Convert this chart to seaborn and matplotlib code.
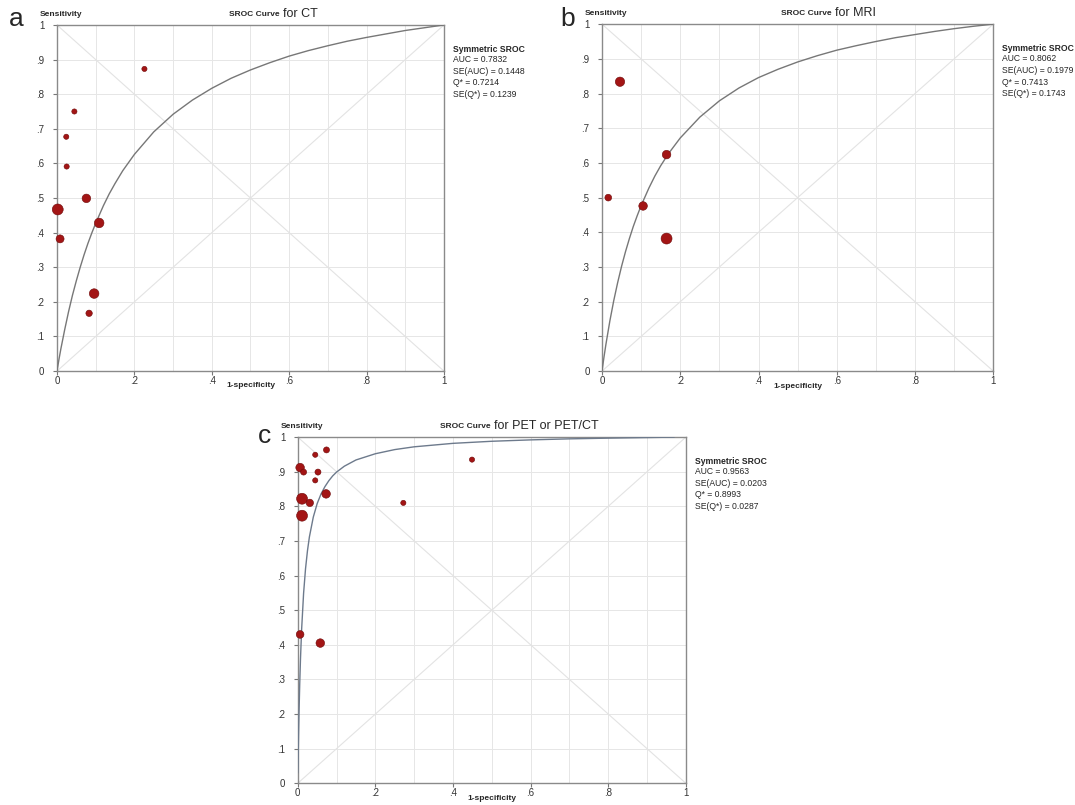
import numpy as np
import pandas as pd
import matplotlib
matplotlib.use('Agg')
import matplotlib.pyplot as plt
import seaborn as sns

sns.set_style('white')
plt.rcParams['font.family'] = ['Liberation Sans', 'DejaVu Sans']

# ---- study points (1-specificity, sensitivity, relative weight) ----
ct_fpr = [0.226, 0.045, 0.024, 0.025, 0.076, 0.002, 0.109, 0.008, 0.096, 0.083]
ct_sens = [0.873, 0.750, 0.677, 0.591, 0.499, 0.467, 0.428, 0.382, 0.224, 0.167]
ct_wt = [1.0, 1.0, 1.0, 1.0, 2.0, 3.0, 2.4, 1.8, 2.4, 1.3]

mri_fpr = [0.046, 0.165, 0.016, 0.105, 0.165]
mri_sens = [0.834, 0.624, 0.500, 0.476, 0.382]
mri_wt = [2.3, 2.0, 1.4, 2.0, 3.0]

pet_fpr = [0.074, 0.045, 0.449, 0.006, 0.015, 0.052, 0.045, 0.073, 0.011, 0.031, 0.272, 0.011, 0.006, 0.058]
pet_sens = [0.963, 0.949, 0.935, 0.912, 0.899, 0.899, 0.875, 0.836, 0.822, 0.810, 0.810, 0.773, 0.430, 0.405]
pet_wt = [1.2, 1.0, 1.0, 2.0, 1.2, 1.2, 1.0, 2.0, 3.0, 1.6, 1.0, 3.0, 1.7, 2.0]

# ---- SROC curves ----
ct_curve_x = [0, 0.002, 0.005, 0.01, 0.02, 0.03, 0.04, 0.05, 0.06, 0.07, 0.08, 0.09, 0.10, 0.12,
              0.135, 0.15, 0.17, 0.20, 0.25, 0.30, 0.35, 0.40, 0.45, 0.50, 0.55, 0.60, 0.65,
              0.70, 0.75, 0.80, 0.85, 0.90, 0.95, 1.0]
ct_curve_y = [0, 0.013, 0.033, 0.064, 0.120, 0.172, 0.219, 0.261, 0.300, 0.336, 0.369, 0.399, 0.427, 0.478,
              0.512, 0.542, 0.579, 0.626, 0.691, 0.742, 0.783, 0.817, 0.846, 0.870, 0.891, 0.910, 0.926,
              0.940, 0.953, 0.964, 0.974, 0.984, 0.992, 1.0]

mri_curve_x = [0, 0.002, 0.005, 0.01, 0.02, 0.03, 0.04, 0.05, 0.06, 0.07, 0.08, 0.09, 0.10, 0.12,
               0.135, 0.15, 0.17, 0.20, 0.25, 0.30, 0.35, 0.40, 0.45, 0.50, 0.55, 0.60, 0.65,
               0.70, 0.75, 0.80, 0.85, 0.90, 0.95, 1.0]
mri_curve_y = [0, 0.016, 0.040, 0.077, 0.144, 0.203, 0.255, 0.302, 0.344, 0.382, 0.417, 0.448, 0.477, 0.528,
               0.562, 0.592, 0.627, 0.672, 0.732, 0.779, 0.816, 0.846, 0.870, 0.891, 0.909, 0.925, 0.938,
               0.950, 0.961, 0.970, 0.979, 0.987, 0.994, 1.0]

pet_curve_x = [0, 0.001, 0.002, 0.003, 0.005, 0.007, 0.01, 0.015, 0.02, 0.025, 0.03, 0.04, 0.05,
               0.06, 0.07, 0.08, 0.09, 0.10, 0.12, 0.15, 0.20, 0.25, 0.30, 0.35, 0.40, 0.50,
               0.60, 0.70, 0.80, 0.97]
pet_curve_y = [0.03, 0.074, 0.138, 0.194, 0.286, 0.360, 0.446, 0.549, 0.620, 0.672, 0.712, 0.769, 0.808,
               0.836, 0.857, 0.874, 0.888, 0.899, 0.916, 0.934, 0.952, 0.964, 0.972, 0.977, 0.982, 0.988,
               0.992, 0.995, 0.997, 1.0]

ct_stats = ['AUC = 0.7832', 'SE(AUC) = 0.1448', 'Q* = 0.7214', 'SE(Q*) = 0.1239']
mri_stats = ['AUC = 0.8062', 'SE(AUC) = 0.1979', 'Q* = 0.7413', 'SE(Q*) = 0.1743']
pet_stats = ['AUC = 0.9563', 'SE(AUC) = 0.0203', 'Q* = 0.8993', 'SE(Q*) = 0.0287']

x_ticks = [0, 0.2, 0.4, 0.6, 0.8, 1.0]
x_labels = ['0', '.2', '.4', '.6', '.8', '1']
y_ticks = [round(v * 0.1, 1) for v in range(11)]
y_labels = ['0', '.1', '.2', '.3', '.4', '.5', '.6', '.7', '.8', '.9', '1']

dot_color = '#a31515'
grid_color = '#e6e6e6'


def draw_panel(ax, fpr, sens, wt, cx, cy, curve_color, title_tail, title_split, stats):
    pts = pd.DataFrame({'fpr': fpr, 'sens': sens, 'wt': wt})
    crv = pd.DataFrame({'x': cx, 'y': cy})

    ax.set_xlim(0, 1)
    ax.set_ylim(0, 1)
    ax.set_xticks(np.arange(0, 1.01, 0.1), minor=True)
    ax.grid(True, which='both', color=grid_color, lw=0.7)
    ax.set_axisbelow(True)
    # reference diagonals
    ax.plot([0, 1], [0, 1], color='#e3e3e3', lw=0.8, zorder=1)
    ax.plot([0, 1], [1, 0], color='#e3e3e3', lw=0.8, zorder=1)

    sns.lineplot(data=crv, x='x', y='y', ax=ax, color=curve_color, lw=1.0,
                 sort=False, estimator=None, zorder=3)
    sns.scatterplot(data=pts, x='fpr', y='sens', size='wt', sizes=(14, 62),
                    size_norm=(1, 3), color=dot_color, edgecolor='#6e0a0a',
                    linewidth=0.4, legend=False, ax=ax, zorder=4, clip_on=False)

    ax.set_xticks(x_ticks)
    ax.set_xticklabels(x_labels)
    ax.set_yticks(y_ticks)
    ax.set_yticklabels(y_labels)
    ax.tick_params(which='major', bottom=True, left=True, labelsize=7,
                   length=3, width=0.8, color='#777777', labelcolor='#333333')
    ax.tick_params(which='minor', length=0)
    ax.tick_params(axis='x', pad=0.5)
    ax.tick_params(axis='y', pad=6)
    for s in ax.spines.values():
        s.set_color('#8a8a8a')
        s.set_linewidth(1.0)

    ax.set_xlabel('')
    ax.set_ylabel('')
    ax.text(0.5, -0.043, '1-specificity', transform=ax.transAxes, fontsize=6,
            fontweight='bold', ha='center', va='center')
    ax.text(-0.045, 1.03, 'Sensitivity', transform=ax.transAxes, fontsize=6,
            fontweight='bold', ha='left', va='center')
    ax.text(title_split, 1.03, 'SROC Curve', transform=ax.transAxes, fontsize=6,
            fontweight='bold', ha='right', va='center')
    ax.text(title_split + 0.008, 1.033, title_tail, transform=ax.transAxes,
            fontsize=9, ha='left', va='center')

    ax.text(1.023, 0.942, 'Symmetric SROC', transform=ax.transAxes, fontsize=6.2,
            fontweight='bold', ha='left', va='top')
    ax.text(1.023, 0.914, '\n'.join(stats), transform=ax.transAxes, fontsize=6.2,
            ha='left', va='top', linespacing=1.4)


fig = plt.figure(figsize=(10.75, 8.05), dpi=100)
ax_a = fig.add_axes([0.053, 0.539, 0.360, 0.430])
ax_b = fig.add_axes([0.560, 0.539, 0.364, 0.431])
ax_c = fig.add_axes([0.277, 0.027, 0.361, 0.430])

draw_panel(ax_a, ct_fpr, ct_sens, ct_wt, ct_curve_x, ct_curve_y, '#777777',
           'for CT', 0.575, ct_stats)
draw_panel(ax_b, mri_fpr, mri_sens, mri_wt, mri_curve_x, mri_curve_y, '#777777',
           'for MRI', 0.587, mri_stats)
draw_panel(ax_c, pet_fpr, pet_sens, pet_wt, pet_curve_x, pet_curve_y, '#6d7a8c',
           'for PET or PET/CT', 0.497, pet_stats)

fig.text(0.008, 0.968, 'a', fontsize=19, ha='left', va='baseline')
fig.text(0.521, 0.968, 'b', fontsize=19, ha='left', va='baseline')
fig.text(0.240, 0.450, 'c', fontsize=19, ha='left', va='baseline')

fig.savefig('out.png', dpi=100, facecolor='white')
